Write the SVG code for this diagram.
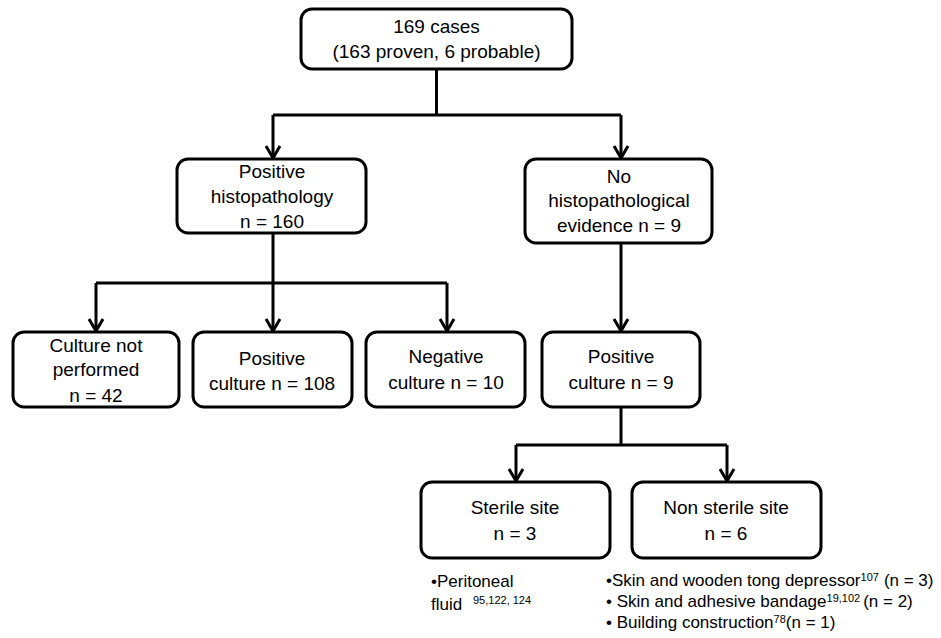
<svg xmlns="http://www.w3.org/2000/svg" width="941" height="638" viewBox="0 0 941 638">
<style>
.box{fill:#fff;stroke:#000;stroke-width:3}
.t{font-family:"Liberation Sans",Arial,sans-serif;font-size:19px;text-anchor:middle;fill:#000}
.b{font-family:"Liberation Sans",Arial,sans-serif;font-size:17px;fill:#000}
.s{font-size:11px}
.c{fill:none;stroke:#000;stroke-width:3}
</style>
<rect width="941" height="638" fill="#fff"/>
<g id="connectors" class="c">
<path d="M436.5 69V115M273 115H621M273 115V158M621 115V158"/>
<path d="M273 233V283M96 283H447M96 283V331M273 283V331M447 283V331"/>
<path d="M621 243V331"/>
<path d="M621 407V445M516 445H727M516 445V481M727 445V481"/>
<path d="M266 146L273 158L280 146M614 146L621 158L628 146"/>
<path d="M89 319L96 331L103 319M266 319L273 331L280 319M440 319L447 331L454 319M614 319L621 331L628 319"/>
<path d="M509 469L516 481L523 469M720 469L727 481L734 469"/>
</g>
<g id="root"><rect class="box" x="301" y="9" width="271" height="60" rx="11"/>
<text class="t" x="436.5" y="33">169 cases</text><text class="t" x="436.5" y="58">(163 proven, 6 probable)</text></g>
<g id="poshisto"><rect class="box" x="177" y="159" width="189" height="74" rx="11"/>
<text class="t" x="272" y="178">Positive</text><text class="t" x="272" y="203">histopathology</text><text class="t" x="272" y="228">n = 160</text></g>
<g id="nohisto"><rect class="box" x="525" y="159" width="187" height="84" rx="11"/>
<text class="t" x="619" y="183">No</text><text class="t" x="619" y="207">histopathological</text><text class="t" x="619" y="232">evidence n = 9</text></g>
<g id="notperf"><rect class="box" x="13" y="332" width="166" height="75" rx="11"/>
<text class="t" x="96" y="352">Culture not</text><text class="t" x="96" y="376">performed</text><text class="t" x="96" y="402">n = 42</text></g>
<g id="poscult"><rect class="box" x="193" y="332" width="159" height="75" rx="11"/>
<text class="t" x="272" y="365">Positive</text><text class="t" x="272" y="390">culture n = 108</text></g>
<g id="negcult"><rect class="box" x="366" y="332" width="159" height="75" rx="11"/>
<text class="t" x="446" y="363">Negative</text><text class="t" x="446" y="389">culture n = 10</text></g>
<g id="poscult9"><rect class="box" x="542" y="332" width="158" height="75" rx="11"/>
<text class="t" x="621" y="363">Positive</text><text class="t" x="621" y="389">culture n = 9</text></g>
<g id="sterile"><rect class="box" x="421" y="482" width="189" height="76" rx="11"/>
<text class="t" x="515" y="514">Sterile site</text><text class="t" x="515" y="540">n = 3</text></g>
<g id="nonsterile"><rect class="box" x="632" y="482" width="189" height="76" rx="11"/>
<text class="t" x="726" y="514">Non sterile site</text><text class="t" x="726" y="540">n = 6</text></g>
<g id="notes">
<text class="b" x="431" y="587">•Peritoneal</text>
<text class="b" x="431" y="610">fluid</text>
<text class="b s" x="473" y="604">95,122, 124</text>
<text class="b" x="606" y="586">•Skin and wooden tong depressor<tspan class="s" dy="-5">107</tspan><tspan dy="5" dx="5">(n = 3)</tspan></text>
<text class="b" x="606" y="607">• Skin and adhesive bandage<tspan class="s" dy="-5">19,102</tspan><tspan dy="5" dx="3">(n = 2)</tspan></text>
<text class="b" x="606" y="628">• Building construction<tspan class="s" dy="-5">78</tspan><tspan dy="5">(n = 1)</tspan></text>
</g>
</svg>
